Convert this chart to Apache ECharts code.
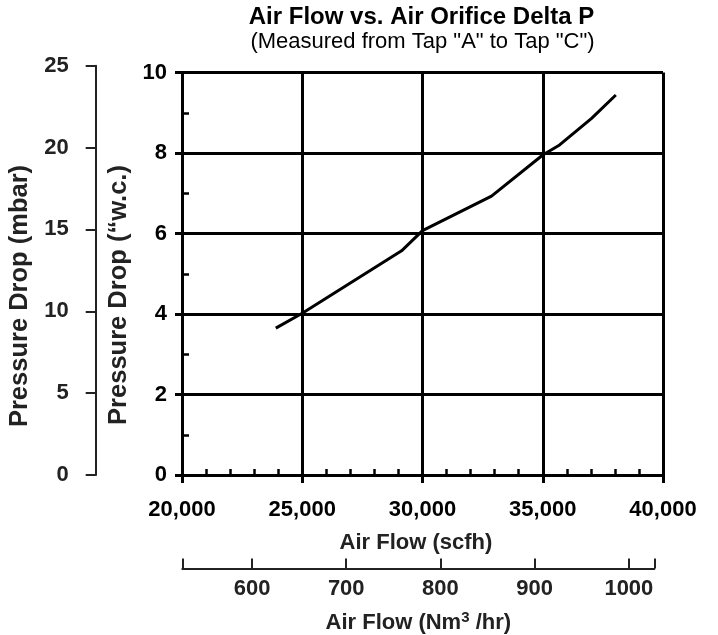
<!DOCTYPE html>
<html>
<head>
<meta charset="utf-8">
<script src="https://cdn.jsdelivr.net/npm/echarts@6.0.0/dist/echarts.min.js"></script>
<style>
  html, body { margin: 0; padding: 0; background: #fff; }
  #chart { width: 718px; height: 635px; }
</style>
</head>
<body>
<div id="chart"></div>
<script>
// measured curve
const airFlowScfh = [23900, 25000, 29130, 30000, 32870, 35000, 35700, 37030, 38040];
const pressureInWc = [3.65, 4.02, 5.57, 6.07, 6.93, 7.95, 8.2, 8.86, 9.44];

// secondary scales
const nm3Ends = [526, 1027];
const nm3Labels = [600, 700, 800, 900, 1000];
const mbarRange = [0, 25];

const FONT = 'Liberation Sans, Arial, sans-serif';
const chart = echarts.init(document.getElementById('chart'));

const points = airFlowScfh.map((x, i) => [x, pressureInWc[i]]);

chart.setOption({
  animation: false,
  grid: [
    { left: 182, right: 55, top: 72.5, bottom: 160 },          // main plot
    { left: 95.7, width: 10, top: 65.7, bottom: 160 },          // mbar scale
    { left: 182.3, right: 63.7, top: 500, bottom: 60 }          // Nm3/hr scale
  ],
  xAxis: [
    {
      gridIndex: 0, type: 'value', min: 20000, max: 40000, interval: 5000, position: 'bottom',
      axisLine: { lineStyle: { color: '#000', width: 3 } },
      axisTick: { length: 8, lineStyle: { color: '#000', width: 3 } },
      axisLabel: {
        margin: 24, color: '#000', fontSize: 22, fontWeight: 'bold', fontFamily: FONT,
        formatter: v => v.toLocaleString('en-US')
      },
      splitLine: { show: true, lineStyle: { color: '#000', width: 3 } }
    },
    {
      gridIndex: 0, type: 'value', min: 20000, max: 40000, interval: 1000, position: 'bottom',
      axisLine: { show: false },
      axisTick: { inside: true, length: 6, lineStyle: { color: '#000', width: 2.5 } },
      axisLabel: { show: false },
      splitLine: { show: false }
    },
    { gridIndex: 1, type: 'value', show: false },
    {
      gridIndex: 2, type: 'value', min: nm3Ends[0], max: nm3Ends[1], position: 'bottom',
      axisLine: { lineStyle: { color: '#222', width: 2 } },
      axisTick: {
        inside: true, length: 10, lineStyle: { color: '#222', width: 2 },
        customValues: [nm3Ends[0], ...nm3Labels, nm3Ends[1]]
      },
      axisLabel: {
        margin: 9, color: '#222', fontSize: 22, fontWeight: 'bold', fontFamily: FONT,
        customValues: nm3Labels,
        formatter: v => String(v)
      },
      splitLine: { show: false },
      name: 'Air Flow (Nm{sup|3} /hr)',
      nameLocation: 'middle',
      nameGap: 42,
      nameTextStyle: {
        color: '#222', fontSize: 22, fontWeight: 'bold', fontFamily: FONT,
        rich: {
          sup: { fontSize: 15, fontWeight: 'bold', fontFamily: FONT, color: '#222', verticalAlign: 'top', padding: [0, 0, 10, 0] }
        }
      }
    }
  ],
  yAxis: [
    {
      gridIndex: 0, type: 'value', min: 0, max: 10, interval: 2, position: 'left',
      axisLine: { lineStyle: { color: '#000', width: 3 } },
      axisTick: { length: 7, lineStyle: { color: '#000', width: 3 } },
      axisLabel: { margin: 15, color: '#000', fontSize: 22, fontWeight: 'bold', fontFamily: FONT },
      splitLine: { show: true, lineStyle: { color: '#000', width: 3 } }
    },
    {
      gridIndex: 0, type: 'value', min: 0, max: 10, interval: 1, position: 'left',
      axisLine: { show: false },
      axisTick: { inside: true, length: 7, lineStyle: { color: '#000', width: 2.5 } },
      axisLabel: { show: false },
      splitLine: { show: false }
    },
    {
      gridIndex: 1, type: 'value', min: mbarRange[0], max: mbarRange[1], interval: 5, position: 'left',
      axisLine: { lineStyle: { color: '#222', width: 2 } },
      axisTick: { length: 10, lineStyle: { color: '#222', width: 2 } },
      axisLabel: { margin: 27, color: '#222', fontSize: 22, fontWeight: 'bold', fontFamily: FONT },
      splitLine: { show: false }
    },
    { gridIndex: 2, type: 'value', show: false }
  ],
  graphic: [
    {
      type: 'text', x: 421.5, y: 17.5,
      style: { text: 'Air Flow vs. Air Orifice Delta P', font: 'bold 24px ' + FONT, fill: '#000', textAlign: 'center', textVerticalAlign: 'middle' }
    },
    {
      type: 'text', x: 422.5, y: 42,
      style: { text: '(Measured from Tap "A" to Tap "C")', font: '22px ' + FONT, fill: '#000', textAlign: 'center', textVerticalAlign: 'middle' }
    },
    {
      type: 'text', x: 416, y: 543,
      style: { text: 'Air Flow (scfh)', font: 'bold 22px ' + FONT, fill: '#222', textAlign: 'center', textVerticalAlign: 'middle' }
    },
    {
      type: 'text', x: 20, y: 296, rotation: Math.PI / 2,
      style: { text: 'Pressure Drop (mbar)', font: 'bold 25.5px ' + FONT, fill: '#222', textAlign: 'center', textVerticalAlign: 'middle' }
    },
    {
      type: 'text', x: 119, y: 295, rotation: Math.PI / 2,
      style: { text: 'Pressure Drop (\u201cw.c.)', font: 'bold 25.5px ' + FONT, fill: '#222', textAlign: 'center', textVerticalAlign: 'middle' }
    }
  ],
  series: [
    {
      type: 'line',
      xAxisIndex: 0,
      yAxisIndex: 0,
      data: points,
      showSymbol: false,
      lineStyle: { color: '#000', width: 3 },
      z: 5
    }
  ]
});
</script>
</body>
</html>
